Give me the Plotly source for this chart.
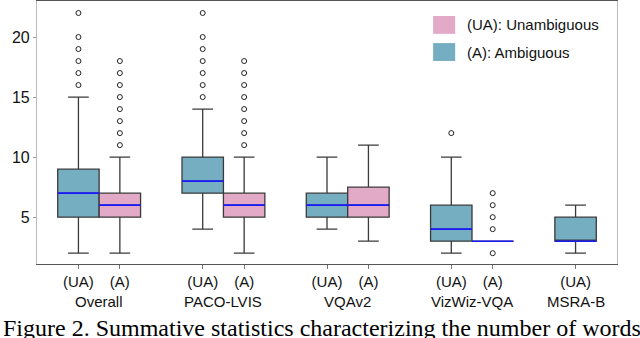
import plotly.graph_objects as go

# ---- data ----
groups = ["Overall", "PACO-LVIS", "VQAv2", "VizWiz-VQA", "MSRA-B"]
box_labels = ["(UA)", "(A)", "(UA)", "(A)", "(UA)", "(A)", "(UA)", "(A)", "(UA)"]
box_pos = [1, 2, 4, 5, 7, 8, 10, 11, 13]
box_group = [0, 0, 1, 1, 2, 2, 3, 3, 4]
box_kind = ["A", "UA", "A", "UA", "A", "UA", "A", "UA", "A"]  # colour key
q1 = [5, 5, 7, 5, 5, 5, 3, 3, 3]
median = [7, 6, 8, 6, 6, 6, 4, 3, 3]
q3 = [9, 7, 10, 7, 7, 7.5, 6, 3, 5]
lower = [2, 2, 4, 2, 4, 3, 2, 3, 2]
upper = [15, 10, 14, 10, 10, 11, 10, 3, 6]
outliers = [
    [16, 17, 18, 19, 20, 22],
    [11, 12, 13, 14, 15, 16, 17, 18],
    [15, 16, 17, 18, 19, 20, 22],
    [11, 12, 13, 14, 15, 16, 17, 18],
    [],
    [],
    [12],
    [2, 4, 5, 6, 7],
    [],
]
y_ticks = [5, 10, 15, 20]
legend_labels = {"UA": "(UA): Unambiguous", "A": "(A): Ambiguous"}
colors = {"UA": "#e2aac7", "A": "#76aec1"}
caption = "Figure 2. Summative statistics characterizing the number of words"

fig = go.Figure()
for i, p in enumerate(box_pos):
    fig.add_trace(go.Box(
        x=[p], q1=[q1[i]], median=[median[i]], q3=[q3[i]],
        lowerfence=[lower[i]], upperfence=[upper[i]],
        width=1, whiskerwidth=0.5, boxpoints=False,
        fillcolor=colors[box_kind[i]],
        line=dict(color="#3a3a3a", width=1.3),
        showlegend=False, hoverinfo="skip",
    ))

# blue median lines
mx, my = [], []
for p, m in zip(box_pos, median):
    mx += [p - 0.5, p + 0.5, None]
    my += [m, m, None]
fig.add_trace(go.Scatter(x=mx, y=my, mode="lines",
                         line=dict(color="#1a1aff", width=1.6),
                         showlegend=False, hoverinfo="skip"))

# outliers
ox, oy = [], []
for p, outs in zip(box_pos, outliers):
    for v in outs:
        ox.append(p)
        oy.append(v)
fig.add_trace(go.Scatter(x=ox, y=oy, mode="markers",
                         marker=dict(symbol="circle-open", size=5,
                                     color="#222", line=dict(width=1)),
                         showlegend=False, hoverinfo="skip"))

# group labels under tick labels
for gi, g in enumerate(groups):
    members = [p for p, grp in zip(box_pos, box_group) if grp == gi]
    cx = sum(members) / len(members)
    fig.add_annotation(x=cx, xref="x", y=0, yref="paper", yanchor="top",
                       yshift=-27, text=g, showarrow=False,
                       font=dict(family="Liberation Sans, Arial", size=15, color="#111"))

# legend (drawn as shapes + text)
leg = [("UA", 0.943, 0.875), ("A", 0.840, 0.772)]
for k, y0, y1 in leg:
    fig.add_shape(type="rect", xref="paper", yref="paper",
                  x0=0.683, x1=0.721, y0=y1, y1=y0,
                  fillcolor=colors[k], line=dict(width=0))
    fig.add_annotation(x=0.738, xref="paper", y=(y0 + y1) / 2, yref="paper",
                       xanchor="left", yanchor="middle", text=legend_labels[k],
                       showarrow=False,
                       font=dict(family="Liberation Sans, Arial", size=15, color="#111"))

fig.add_annotation(x=0, xref="paper", xanchor="left", xshift=-36,
                   y=0, yref="paper", yanchor="top", yshift=-49,
                   text=caption, showarrow=False,
                   font=dict(family="Liberation Serif, Times New Roman", size=24, color="#000"))

fig.update_layout(
    width=640, height=338,
    margin=dict(l=37, r=23, t=1, b=74),
    paper_bgcolor="white", plot_bgcolor="white",
    showlegend=False,
    xaxis=dict(range=[0, 14], tickvals=box_pos, ticktext=box_labels,
               ticks="outside", ticklen=4, tickcolor="#777",
               showline=True, linecolor="#555", linewidth=1.2, mirror=True,
               showgrid=False, zeroline=False,
               tickfont=dict(family="Liberation Sans, Arial", size=15, color="#111")),
    yaxis=dict(range=[1.1, 23], tickvals=y_ticks,
               ticks="outside", ticklen=3, tickcolor="#999",
               showline=True, linecolor="#bbb", linewidth=1.2, mirror=True,
               showgrid=False, zeroline=False,
               tickfont=dict(family="Liberation Sans, Arial", size=16, color="#111")),
)
fig.write_html("out.html", config={"displayModeBar": False},
               post_script="document.body.style.margin='0';document.body.style.overflow='hidden';")
